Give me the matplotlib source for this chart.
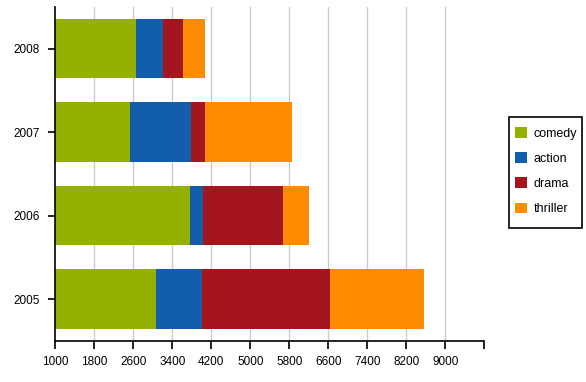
import matplotlib.pyplot as plt
import numpy as np
from matplotlib.patches import Rectangle

plt.rcParams['font.family'] = ['Liberation Sans', 'DejaVu Sans']

years = ['2005', '2006', '2007', '2008']
comedy = [3065, 3760, 2530, 2650]
action = [940, 270, 1250, 550]
drama = [2625, 1640, 290, 410]
thriller = [1930, 530, 1780, 470]

genres = ['comedy', 'action', 'drama', 'thriller']
colors = ['#95b000', '#125eab', '#a5151e', '#ff8b00']
ticks = [1000, 1800, 2600, 3400, 4200, 5000, 5800, 6600, 7400, 8200, 9000, 9800]

fig = plt.figure(figsize=(5.86, 3.82), dpi=100)
ax = fig.add_axes([0.0944, 0.108, 0.7321, 0.874])

y = np.arange(len(years))
left = np.zeros(len(years))
for name, vals, c in zip(genres, [comedy, action, drama, thriller], colors):
    ax.barh(y, vals, left=left, height=0.714, color=c, label=name, zorder=2)
    left += np.array(vals)

ax.set_xlim(1000, 9800)
ax.set_ylim(-0.5, 3.5)
ax.set_xticks(ticks)
ax.set_xticklabels([str(t) for t in ticks[:-1]] + [''])
ax.set_yticks(y)
ax.set_yticklabels(years)
for t in ticks[1:-1]:
    ax.axvline(t, color='#cccccc', lw=1, zorder=1)

for s in ['top', 'right']:
    ax.spines[s].set_visible(False)
ax.spines['left'].set_linewidth(1.2)
ax.spines['bottom'].set_linewidth(1.2)
ax.tick_params(axis='x', length=6, width=1.2, labelsize=8.5, pad=5, colors='black')
ax.tick_params(axis='y', length=5, width=1.2, labelsize=8.5, pad=6, colors='black')

# legend entries without frame, border drawn separately
handles, labels = ax.get_legend_handles_labels()
fig.legend(handles[:4], labels[:4], loc='upper left', bbox_to_anchor=(0.869, 0.684),
           borderaxespad=0, frameon=False, fontsize=9, handlelength=0.95,
           handleheight=0.95, labelspacing=1.0, handletextpad=0.5, borderpad=0.5)
fig.patches.append(Rectangle((0.869, 0.402), 0.1235, 0.291, transform=fig.transFigure,
                             fill=False, edgecolor='black', lw=1.2))

fig.savefig('out.png', dpi=100)
